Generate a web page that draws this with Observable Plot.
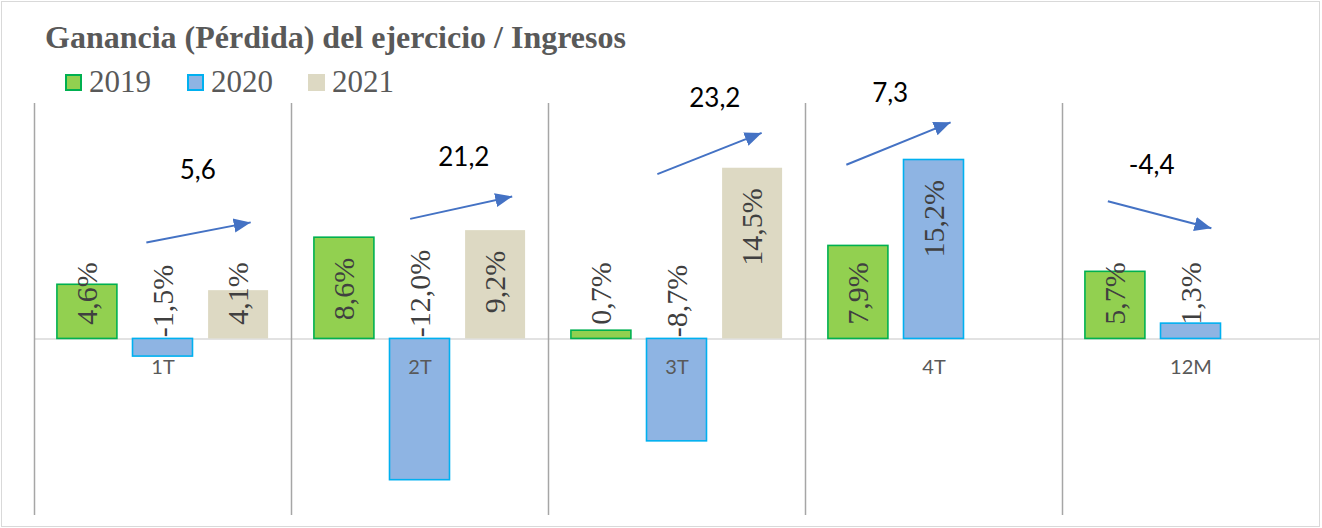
<!DOCTYPE html>
<html>
<head>
<meta charset="utf-8">
<script src="https://cdn.jsdelivr.net/npm/d3@7"></script>
<script src="https://cdn.jsdelivr.net/npm/@observablehq/plot@0.6"></script>
<style>
  html, body { margin: 0; padding: 0; background: #fff; }
  #chart { position: relative; width: 1322px; height: 528px; background: #fff; overflow: hidden; }
  #title { position: absolute; left: 45px; top: 21px; font: 700 32px "Liberation Serif", serif; line-height: 32px; color: #595959; white-space: nowrap; }
  #plotwrap { position: absolute; left: 0; top: 75px; }
  .lg { position: absolute; top: 66px; font: 31px "Liberation Serif", serif; line-height: 31px; color: #595959; white-space: nowrap; }
  .sw { position: absolute; top: 74px; width: 17px; height: 17px; box-sizing: border-box; }
  #frame { position: absolute; left: 1px; top: 1px; width: 1319px; height: 526px; box-sizing: border-box; border: 1px solid #d9d9d9; pointer-events: none; }
  #plotwrap svg text.vlabel, #plotwrap svg .vlabel text { font-family: "Liberation Serif", "Times New Roman", serif !important; }
</style>
</head>
<body>
<div id="chart">
  <div id="plotwrap"></div>
  <div id="title">Ganancia (Pérdida) del ejercicio / Ingresos</div>
  <div id="legend"></div>
  <div id="frame"></div>
</div>
<script>
// ---- data ----
const categories = ["1T", "2T", "3T", "4T", "12M"];
const years = ["2019", "2020", "2021"];
const v2019 = [4.6, 8.6, 0.7, 7.9, 5.7];
const v2020 = [-1.5, -12.0, -8.7, 15.2, 1.3];
const v2021 = [4.1, 9.2, 14.5, null, null];
// change annotations (arrows) per category
const changes = [5.6, 21.2, 23.2, 7.3, -4.4];
// arrow anchors in data units (x: year-slot units inside each category, y: %)
const arrowX1 = [1.28, 1.37, 1.24, 0.34, 0.40];
const arrowY1 = [8.2, 10.2, 14.0, 14.8, 11.7];
const arrowX2 = [2.66, 2.72, 2.62, 1.72, 1.77];
const arrowY2 = [9.9, 12.1, 17.5, 18.4, 9.4];
const changeX = [1.96, 2.08, 2.0, 0.92, 0.98];
const changeY = [14.3, 15.4, 20.4, 20.8, 14.7];

// ---- styles ----
const fills = {"2019": "#92d050", "2020": "#8eb4e3", "2021": "#ddd9c3"};
const strokes = {"2019": "#00b050", "2020": "#00b0f0", "2021": "none"};
const xDomain = [-0.2, years.length + 0.2];
const yDomain = [-15, 20];

const series = [v2019, v2020, v2021];
const rows = [];
categories.forEach((c, i) => {
  years.forEach((yr, k) => {
    const v = series[k][i];
    if (v != null) rows.push({cat: c, year: yr, k, value: v});
  });
});
const arrows = categories.map((c, i) => ({
  cat: c, x1: arrowX1[i], y1: arrowY1[i], x2: arrowX2[i], y2: arrowY2[i],
  lx: changeX[i], ly: changeY[i], change: changes[i]
}));

const fmt = (v) => v.toFixed(1).replace(".", ",");

function arrowHead(color, context) {
  const ns = "http://www.w3.org/2000/svg";
  const doc = (context && context.document) || document;
  const m = doc.createElementNS(ns, "marker");
  m.setAttribute("viewBox", "0 -5 10 10");
  m.setAttribute("refX", "10");
  m.setAttribute("refY", "0");
  m.setAttribute("markerUnits", "userSpaceOnUse");
  m.setAttribute("markerWidth", "17");
  m.setAttribute("markerHeight", "17");
  m.setAttribute("orient", "auto");
  const p = doc.createElementNS(ns, "path");
  p.setAttribute("d", "M0,-4.2L10,0L0,4.2Z");
  p.setAttribute("fill", color);
  p.setAttribute("stroke", "none");
  m.appendChild(p);
  return m;
}

const labelStyle = {
  fontFamily: "'Liberation Serif', 'Times New Roman', serif",
  fontSize: 30,
  fill: "#404040",
  rotate: -90,
  className: "vlabel"
};

const barMarks = years.map((yr) =>
  Plot.rect(rows.filter((d) => d.year === yr), {
    fx: "cat",
    x1: (d) => d.k,
    x2: (d) => d.k + 1,
    y1: () => 0,
    y2: "value",
    fill: fills[yr],
    stroke: strokes[yr],
    strokeWidth: 1.6,
    insetLeft: 7.8,
    insetRight: 7.8
  })
);

const plot = Plot.plot({
  width: 1322,
  height: 453,
  marginLeft: 34,
  marginRight: 3,
  marginTop: 28,
  marginBottom: 13,
  style: {background: "none", overflow: "visible"},
  fx: {domain: categories, padding: 0, axis: null},
  x: {domain: xDomain, axis: null},
  y: {domain: yDomain, axis: null},
  marks: [
    Plot.ruleY([0], {stroke: "#d9d9d9", strokeWidth: 1.6}),
    Plot.ruleX(categories, {fx: (d) => d, x: () => xDomain[0], stroke: "#a6a6a6", strokeWidth: 1.5}),
    ...barMarks,
    // negative values: label sits just above the zero line
    Plot.text(rows.filter((d) => d.value < 0), {
      fx: "cat", x: (d) => d.k + 0.5, y: () => 0.15,
      text: (d) => fmt(d.value) + "%", textAnchor: "start", ...labelStyle
    }),
    // short positive bars: label starts a little above the base
    Plot.text(rows.filter((d) => d.value >= 0 && d.value < 8.5), {
      fx: "cat", x: (d) => d.k + 0.5, y: () => 1.2,
      text: (d) => fmt(d.value) + "%", textAnchor: "start", ...labelStyle
    }),
    // tall bars: label inside the end
    Plot.text(rows.filter((d) => d.value >= 8.5), {
      fx: "cat", x: (d) => d.k + 0.5, y: (d) => d.value - 1.7,
      text: (d) => fmt(d.value) + "%", textAnchor: "end", ...labelStyle
    }),
    // category labels below the zero line
    Plot.text(categories, {
      fx: (d) => d, x: () => years.length / 2, y: () => -2.4, text: (d) => d,
      fontFamily: "Lato, sans-serif", fontSize: 20, fill: "#595959"
    }),
    // change arrows
    Plot.link(arrows, {
      fx: "cat", x1: "x1", y1: "y1", x2: "x2", y2: "y2",
      stroke: "#4472c4", strokeWidth: 2, markerEnd: arrowHead
    }),
    Plot.text(arrows, {
      fx: "cat", x: "lx", y: "ly", text: (d) => fmt(d.change),
      fontFamily: "Lato, sans-serif", fontSize: 26, fill: "#000000"
    })
  ]
});
document.getElementById("plotwrap").appendChild(plot);

// ---- legend ----
const legend = document.getElementById("legend");
const swX = [65, 187, 308];
years.forEach((yr, k) => {
  const sw = document.createElement("div");
  sw.className = "sw";
  sw.style.left = swX[k] + "px";
  sw.style.background = fills[yr];
  if (strokes[yr] !== "none") sw.style.border = "2px solid " + strokes[yr];
  legend.appendChild(sw);
  const t = document.createElement("div");
  t.className = "lg";
  t.style.left = (swX[k] + 24) + "px";
  t.textContent = yr;
  legend.appendChild(t);
});
</script>
</body>
</html>
